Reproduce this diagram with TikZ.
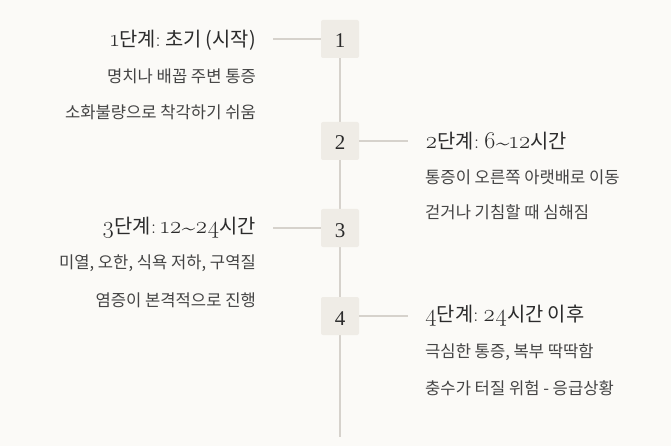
\documentclass[tikz,border=0pt]{standalone}
\usepackage{fontspec}
\setmainfont{Latin Modern Roman}[Numbers=OldStyle]
\newfontfamily\lin{Liberation Serif}
\newfontfamily\kr{Noto Sans CJK KR}
\definecolor{bg}{HTML}{FBFAF7}
\definecolor{ln}{HTML}{D6D2CC}
\definecolor{bx}{HTML}{EFECE6}
\definecolor{tx}{HTML}{2B2B2B}
\definecolor{st}{HTML}{444444}
\newcommand{\dg}[1]{{\rmfamily\fontsize{24}{24}\selectfont #1}}
\newcommand{\cl}{{\rmfamily\fontsize{20}{20}\selectfont :}\hspace{4.5pt}}
\newcommand{\tld}{\dg{\raisebox{-0.2ex}{\textasciitilde}}}
\begin{document}
\begin{tikzpicture}[x=1pt,y=-1pt,
  numbox/.style={fill=bx, rounded corners=2pt, minimum size=38pt, inner sep=0pt, text height=18pt, text depth=0pt, font=\lin\fontsize{21}{21}\selectfont, text=tx},
  ttl/.style={font=\kr\fontsize{19.8}{20}\selectfont, text=tx, inner sep=0pt},
  sub/.style={font=\kr\fontsize{16.6}{17}\selectfont, text=st, inner sep=0pt},
  conn/.style={draw=ln, line width=1.5pt}]
\fill[bg] (0,0) rectangle (671,446);
\useasboundingbox (0,0) rectangle (671,446);
\coordinate (top) at (340,40);
\coordinate (end) at (340,436.5);
\draw[conn] (top) -- (end);
\node[numbox] (b1) at (340,39) {1};
\node[numbox] (b2) at (340,141) {2};
\node[numbox] (b3) at (340,228) {3};
\node[numbox] (b4) at (340,316) {4};
\coordinate (c1) at (273,39);
\coordinate (c2) at (408,141);
\coordinate (c3) at (273,228);
\coordinate (c4) at (408,316);
\draw[conn] (c1) -- (b1.west);
\draw[conn] (b2.east) -- (c2);
\draw[conn] (c3) -- (b3.west);
\draw[conn] (b4.east) -- (c4);
% item 1
\node[ttl, anchor=east] (t1) at (256,40) {\dg{1}단계\cl 초기 (시작)};
\node[sub, anchor=east] (s1a) at (256,76) {명치나 배꼽 주변 통증};
\node[sub, anchor=east] (s1b) at (256,112) {소화불량으로 착각하기 쉬움};
% item 2
\node[ttl, anchor=west] (t2) at (425,141) {\dg{2}단계\cl\dg{6}\tld\dg{12}시간};
\node[sub, anchor=west] (s2a) at (425,177) {통증이 오른쪽 아랫배로 이동};
\node[sub, anchor=west] (s2b) at (425,212) {걷거나 기침할 때 심해짐};
% item 3
\node[ttl, anchor=east] (t3) at (256,228) {\dg{3}단계\cl\dg{12}\tld\dg{24}시간};
\node[sub, anchor=east] (s3a) at (256,263) {미열, 오한, 식욕 저하, 구역질};
\node[sub, anchor=east] (s3b) at (256,300) {염증이 본격적으로 진행};
% item 4
\node[ttl, anchor=west] (t4) at (425,316) {\dg{4}단계\cl\dg{24}시간 이후};
\node[sub, anchor=west] (s4a) at (425,352) {극심한 통증, 복부 딱딱함};
\node[sub, anchor=west] (s4b) at (425,388) {충수가 터질 위험 - 응급상황};
\end{tikzpicture}
\end{document}
